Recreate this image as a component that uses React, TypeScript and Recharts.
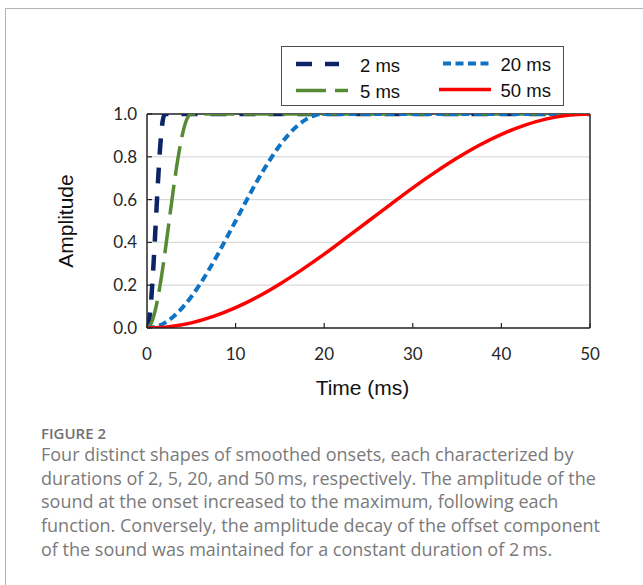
import { LineChart, Line, XAxis, YAxis, CartesianGrid, Legend, ReferenceLine } from 'recharts'

// onset ramps: time (ms) / amplitude pairs
const T_2MS = [0, 0.25, 0.5, 0.75, 1, 1.25, 1.5, 1.75, 2, 50]
const A_2MS = [0, 0.038, 0.146, 0.309, 0.5, 0.691, 0.854, 0.962, 1, 1]

const T_5MS = [0, 0.5, 1, 1.5, 2, 2.5, 3, 3.5, 4, 4.5, 5, 50]
const A_5MS = [0, 0.024, 0.095, 0.206, 0.345, 0.5, 0.655, 0.794, 0.905, 0.976, 1, 1]

const T_20MS = [0, 1, 2, 3, 4, 5, 6, 7, 8, 9, 10, 11, 12, 13, 14, 15, 16, 17, 18, 19, 20, 50]
const A_20MS = [0, 0.006, 0.024, 0.054, 0.095, 0.146, 0.206, 0.273, 0.345, 0.422, 0.5, 0.578, 0.655, 0.727, 0.794, 0.854, 0.905, 0.946, 0.976, 0.994, 1, 1]

const T_50MS = [0, 2.5, 5, 7.5, 10, 12.5, 15, 17.5, 20, 22.5, 25, 27.5, 30, 32.5, 35, 37.5, 40, 42.5, 45, 47.5, 50]
const A_50MS = [0, 0.006, 0.024, 0.054, 0.095, 0.146, 0.206, 0.273, 0.345, 0.422, 0.5, 0.578, 0.655, 0.727, 0.794, 0.854, 0.905, 0.946, 0.976, 0.994, 1]

const X_TICKS = [0, 10, 20, 30, 40, 50]
const Y_TICKS = [0, 0.2, 0.4, 0.6, 0.8, 1.0]

const CAPTION_TITLE = 'FIGURE 2'
const CAPTION_LINES = [
  'Four distinct shapes of smoothed onsets, each characterized by',
  'durations of 2, 5, 20, and 50\u2009ms, respectively. The amplitude of the',
  'sound at the onset increased to the maximum, following each',
  'function. Conversely, the amplitude decay of the offset component',
  'of the sound was maintained for a constant duration of 2\u2009ms.',
]

const toRows = (ts: number[], as: number[]) => ts.map((t, i) => ({ t, a: as[i] }))

const SERIES = [
  { name: '2 ms', color: '#0c2466', dash: '16 13', width: 4.5, data: toRows(T_2MS, A_2MS) },
  { name: '5 ms', color: '#578a34', dash: '30 9', width: 3.5, data: toRows(T_5MS, A_5MS) },
  { name: '20 ms', color: '#0f73c4', dash: '8 4.5', width: 4, data: toRows(T_20MS, A_20MS) },
  { name: '50 ms', color: '#ff0000', dash: undefined, width: 3.5, data: toRows(T_50MS, A_50MS) },
]

const AXIS = '#262626'
const TICK_FONT = 'Lato, "Open Sans", sans-serif'
const LABEL_FONT = '"Liberation Sans", Arial, sans-serif'

// legend: two columns, 2/5 ms on the left, 20/50 ms on the right
const LEGEND_SLOTS = [
  { x1: 15, x2: 58, y: 18, tx: 79, ty: 25.5 },
  { x1: 15, x2: 67, y: 44.5, tx: 79, ty: 52 },
  { x1: 162, x2: 209, y: 17.5, tx: 219.5, ty: 25 },
  { x1: 158, x2: 210, y: 43.5, tx: 219.5, ty: 50.5 },
]

function LegendBox() {
  return (
    <svg width={283} height={60} style={{ display: 'block' }}>
      <rect x={0.5} y={0.5} width={282} height={59} fill="#fff" stroke="#4d4d4d" strokeWidth={1} />
      {SERIES.map((s, i) => {
        const p = LEGEND_SLOTS[i]
        return (
          <g key={s.name}>
            <line x1={p.x1} x2={p.x2} y1={p.y} y2={p.y} stroke={s.color}
              strokeWidth={s.width} strokeDasharray={s.dash} />
            <text x={p.tx} y={p.ty} fontSize={18.5} fontFamily={LABEL_FONT} fill="#111">{s.name}</text>
          </g>
        )
      })}
    </svg>
  )
}

export default function App() {
  return (
    <div style={{ position: 'absolute', left: 0, top: 0, width: 643, height: 585, background: '#fff', overflow: 'hidden' }}>
      <div style={{
        position: 'absolute', left: 5, top: 8, right: 0, bottom: 0,
        borderTop: '1px solid #b4b4b4', borderLeft: '1px solid #b4b4b4',
      }} />

      <div style={{ position: 'absolute', left: 0, top: 0 }}>
        <LineChart width={643} height={420} margin={{ top: 114, right: 53, bottom: 22, left: 0 }}>
          <CartesianGrid vertical={false} stroke="#d9d9d9" strokeWidth={1.2} />
          <XAxis
            type="number" dataKey="t" domain={[0, 50]} ticks={X_TICKS} allowDataOverflow
            height={70} tickSize={-5} tickMargin={25}
            axisLine={{ stroke: AXIS, strokeWidth: 1.5 }} tickLine={{ stroke: AXIS, strokeWidth: 1.2 }}
            tick={{ fill: AXIS, fontSize: 17, fontFamily: TICK_FONT }}
            label={{ value: 'Time (ms)', position: 'insideBottom', offset: 3, dx: -6, fill: '#111', fontSize: 21, fontFamily: LABEL_FONT }}
          />
          <YAxis
            type="number" domain={[0, 1]} ticks={Y_TICKS} allowDataOverflow
            width={147} tickSize={-5} tickMargin={15}
            tickFormatter={(v: number) => v.toFixed(1)}
            axisLine={{ stroke: AXIS, strokeWidth: 1.5 }} tickLine={{ stroke: AXIS, strokeWidth: 1.2 }}
            tick={{ fill: AXIS, fontSize: 17, fontFamily: TICK_FONT }}
            label={{ value: 'Amplitude', angle: -90, position: 'insideLeft', offset: 65.5, style: { textAnchor: 'middle' }, fill: '#111', fontSize: 21, fontFamily: LABEL_FONT }}
          />
          {/* plot area border, top and right */}
          <ReferenceLine y={1} stroke={AXIS} strokeWidth={1.5} />
          <ReferenceLine x={50} stroke={AXIS} strokeWidth={1.5} />
          {SERIES.map(s => (
            <Line
              key={s.name} name={s.name} data={s.data} dataKey="a" type="monotone"
              stroke={s.color} strokeWidth={s.width} strokeDasharray={s.dash}
              dot={false} activeDot={false} isAnimationActive={false}
            />
          ))}
          <Legend
            layout="horizontal" verticalAlign="middle" align="center"
            content={() => <LegendBox />}
            wrapperStyle={{ left: 281, top: 46, width: 283, height: 60 }}
          />
        </LineChart>
      </div>

      <div style={{
        position: 'absolute', left: 41, top: 423.5, fontFamily: '"Open Sans", sans-serif',
        fontSize: 15, lineHeight: '18px', fontWeight: 600, color: '#707070',
      }}>{CAPTION_TITLE}</div>
      <div style={{
        position: 'absolute', left: 41, top: 442.8, fontFamily: '"Open Sans", sans-serif',
        fontSize: 18, lineHeight: '23.8px', color: '#7a7a7a', whiteSpace: 'nowrap',
      }}>
        {CAPTION_LINES.map(l => <div key={l}>{l}</div>)}
      </div>
    </div>
  )
}
